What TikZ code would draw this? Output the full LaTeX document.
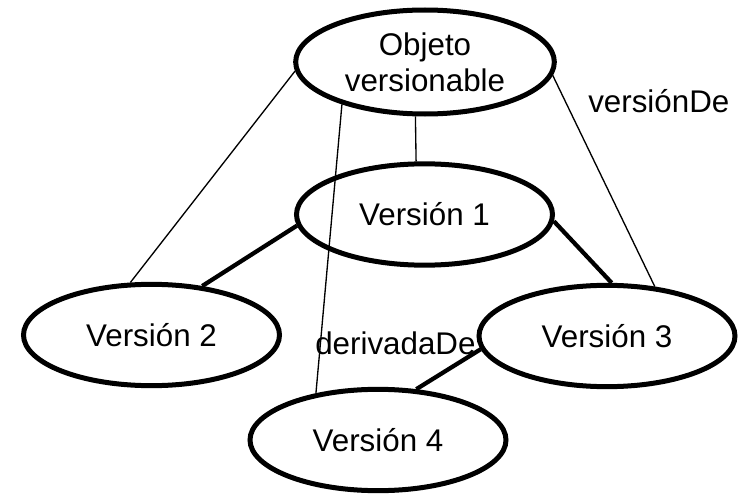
\documentclass[tikz,border=0pt]{standalone}
\usepackage{fontspec}
\setmainfont{Liberation Sans}
\usepackage{tikz}
\usetikzlibrary{shapes.geometric}
\tikzstyle{version} = [ellipse, draw=black, line width=3.75pt, minimum width=192pt, minimum height=76pt, inner sep=0pt, text centered, font=\fontsize{23.5}{27}\selectfont]
\tikzstyle{label} = [inner sep=0pt, anchor=base west, font=\fontsize{23.5}{27}\selectfont]
\tikzstyle{thinline} = [line width=1pt]
\tikzstyle{thickline} = [line width=3.2pt]

\begin{document}
\begin{tikzpicture}[x=0.75pt,y=0.75pt]
\useasboundingbox (0,0) rectangle (740,494);
%%%%% ADDING MAIN BLOCKS
\node (obj) [version, minimum width=194pt, minimum height=78pt, align=center] at (425,432) {Objeto\\versionable};
\node (v1) [version] at (424.5,279.5) {Versión 1};
\node (v2) [version] at (151.5,159) {Versión 2};
\node (v3) [version] at (607,158) {Versión 3};
\node (v4) [version] at (378,54) {Versión 4};

%%%%% ADDING LINES
% versionDe (thin)
\draw [thinline] (obj.184) -- (v2.112);
\draw [thinline] (obj.260) -- (v1.99);
\draw [thinline] (obj.207) -- (v4.143);
\draw [thinline] (obj.354) -- (v3.46);
% derivadaDe (thick)
\draw [thickline] (v1.185) -- (v2.44);
\draw [thickline] (v1.357) -- (v3.85);
\draw [thickline] (v3.186) -- (v4.53);

%%%%% ADDING LABELS
\node (lblver) [label] at (588,382) {versiónDe};
\node (lblder) [label] at (315,140) {derivadaDe};
\end{tikzpicture}
\end{document}
